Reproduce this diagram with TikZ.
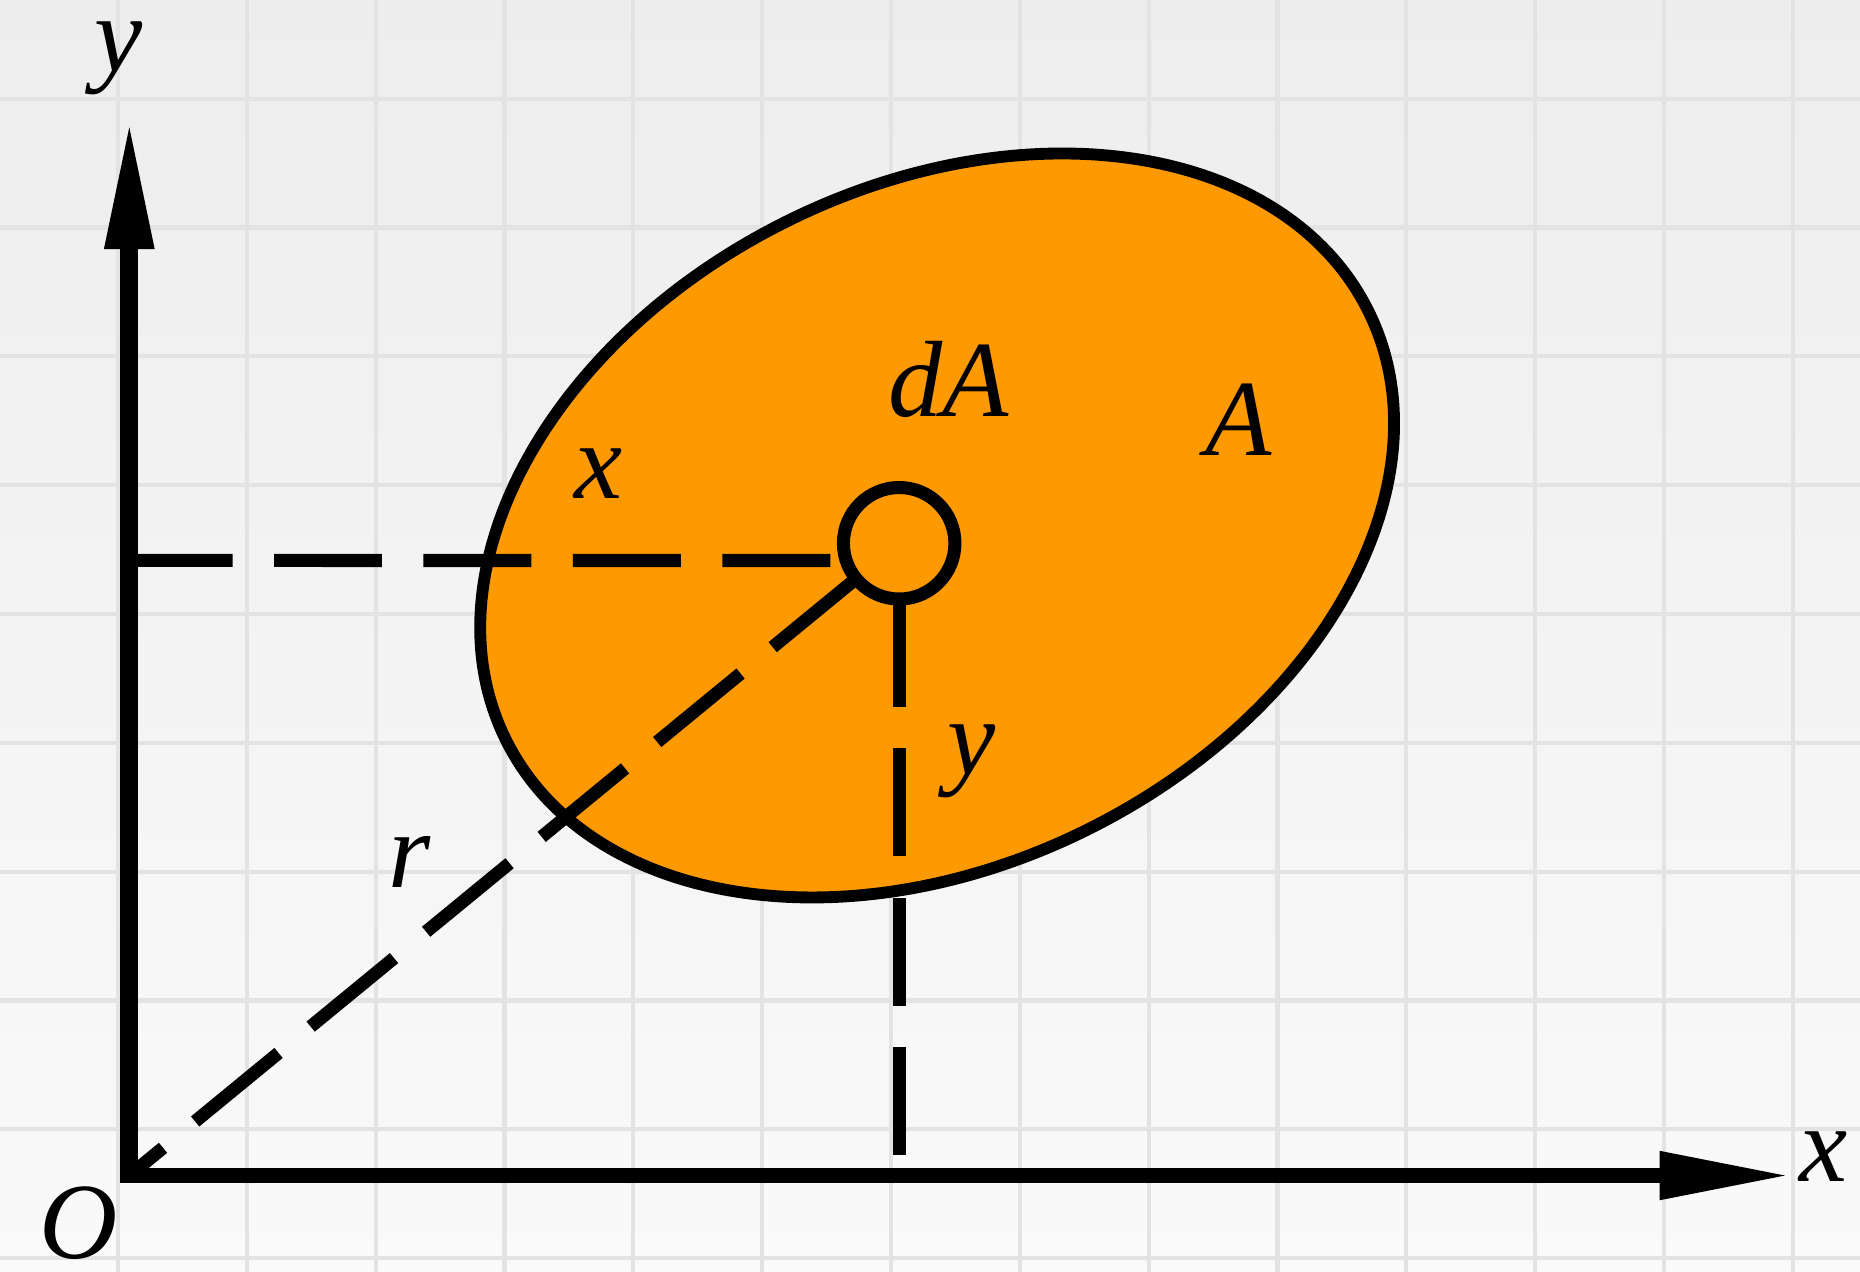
\documentclass[tikz,border=0pt]{standalone}
\usepackage{fontspec}
\setmainfont{Liberation Serif}
\usetikzlibrary{arrows.meta}
\definecolor{areaorange}{RGB}{255,153,0}

\begin{document}
\begin{tikzpicture}[>={Triangle[length=1.1cm, width=.38cm]},
	lbl/.style={font=\fontsize{26}{30}\selectfont\itshape, inner sep=0pt},
	dashline/.style={line width=.11cm, dash pattern=on .91cm off .35cm},
	gridline/.style={black!11, line width=.035cm}]
	\def\g{1.086}		% grid cell
	\def\gx{-.095}		% first vertical grid line
	\def\gy{.39}		% first horizontal grid line above x axis
	\def\a{4.06}		% half major axis
	\def\b{2.86}		% half minor axis
	\def\t{26.5}		% tilt of the area

	% Paper
	\useasboundingbox (-1.09,-.81) rectangle (14.59,9.91);
	\shade[top color=black!7, bottom color=black!2] (-1.09,-.81) rectangle (14.59,9.91);
	\foreach \i in {0,...,13}
		\draw[gridline] (\gx+\i*\g, -.81) -- (\gx+\i*\g, 9.91);
	\foreach \j in {-1,...,8}
		\draw[gridline] (-1.09, \gy+\j*\g) -- (14.59, \gy+\j*\g);

	% Coordinates
	\coordinate (o) at (0, 0);			% origin
	\coordinate (c) at (6.81, 5.48);		% centre of the area
	\coordinate (ybot) at (0, -.06);
	\coordinate (ytip) at (0, 8.91);
	\coordinate (xleft) at (-.075, 0);
	\coordinate (xtip) at (14.0, 0);
	\coordinate (yfoot) at (6.49, .17);		% end of y distance
	\coordinate (xfoot) at (-.04, 5.185);		% end of x distance

	% Area A
	\filldraw[fill=areaorange, line width=.1cm] (c) ellipse [x radius=\a,
		y radius=\b, rotate=\t];

	% Element dA
	\node[circle, draw, fill=areaorange, line width=.11cm, minimum size=.94cm,
		inner sep=0pt, outer sep=0pt] (da) at (6.49, 5.33) {};

	% Distances
	\draw[dashline] (xfoot) -- (da.198);
	\draw[dashline] (da.south) -- (yfoot);
	\draw[dashline] (da) -- (o);

	% Axes
	\draw[line width=.15cm, ->] (ybot) -- (ytip);
	\draw[line width=.12cm, ->] (xleft) -- (xtip);

	% Labels
	\node[lbl] (ylbl) at (-.09, 9.42) {y};
	\node[lbl] (xlbl) at (14.28, .16) {x};
	\node[lbl] (olbl) at (-.43, -.40) {O};
	\node[lbl] (dalbl) at (6.91, 6.71) {dA};
	\node[lbl] (albl) at (9.35, 6.37) {A};
	\node[lbl] (xdist) at (3.96, 5.92) {x};
	\node[lbl] (ydist) at (7.10, 3.49) {y};
	\node[lbl] (rdist) at (2.36, 2.64) {r};
\end{tikzpicture}
\end{document}
